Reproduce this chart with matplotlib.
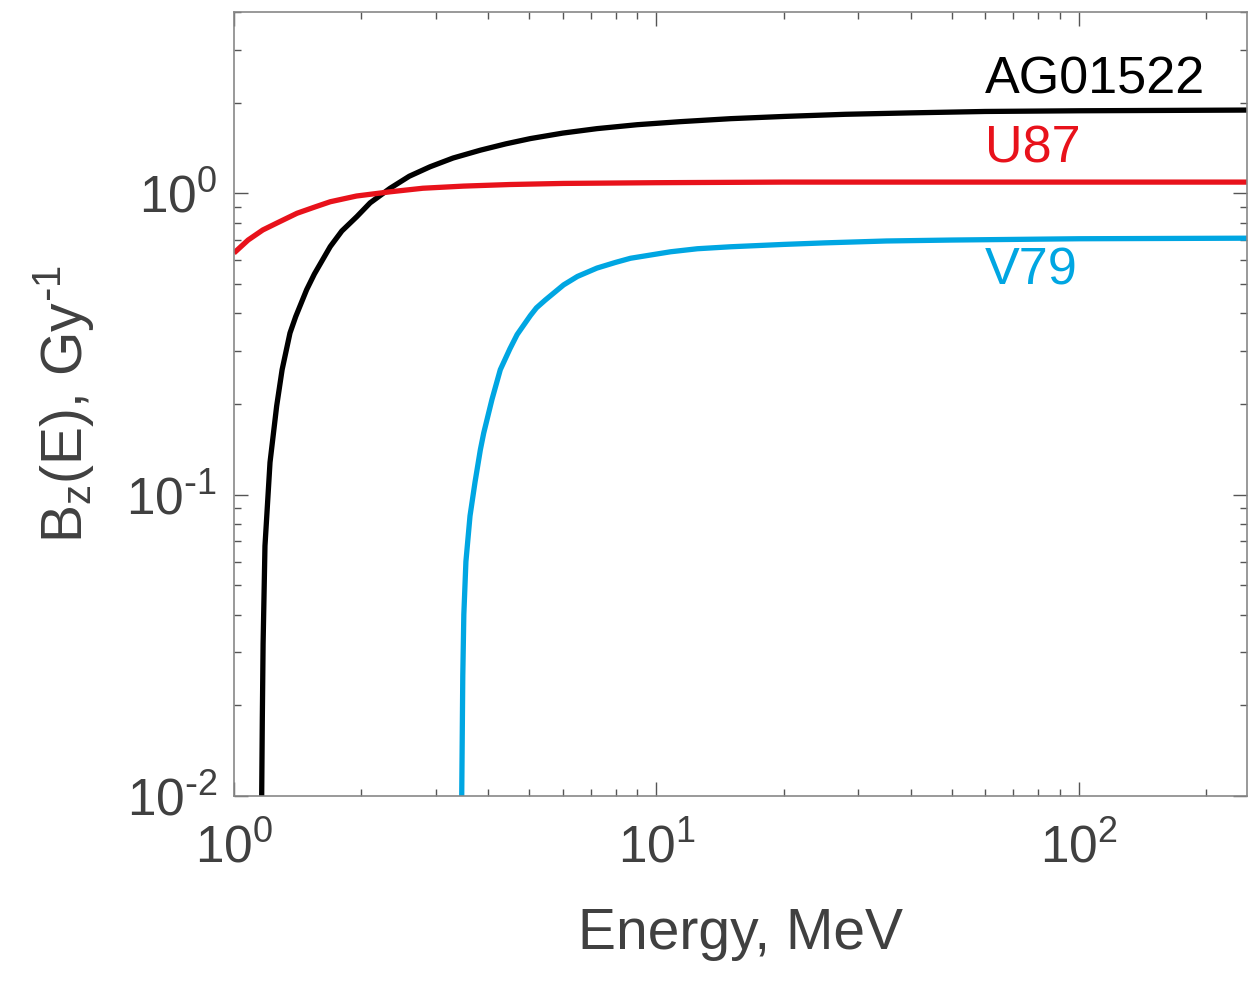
import matplotlib
matplotlib.use('Agg')
import matplotlib.pyplot as plt
from matplotlib.ticker import LogLocator, NullFormatter, FuncFormatter
import numpy as np

plt.rcParams['font.family'] = ['Liberation Sans', 'DejaVu Sans']
plt.rcParams['mathtext.default'] = 'regular'
plt.rcParams['axes.unicode_minus'] = False

# energies (MeV) and B_z(E) (Gy^-1)
e_ag = [1.163, 1.167, 1.172, 1.184, 1.217, 1.262, 1.30, 1.357, 1.40, 1.486,
        1.55, 1.69, 1.80, 1.953, 2.1, 2.34, 2.6, 2.91, 3.3, 3.83, 4.4, 5.03,
        6.0, 7.23, 9.0, 11.4, 15, 20, 28, 40, 60, 100, 160, 250]
b_ag = [0.0100, 0.018, 0.032, 0.0676, 0.128, 0.197, 0.26, 0.344, 0.39, 0.479,
        0.54, 0.666, 0.75, 0.837, 0.93, 1.039, 1.14, 1.225, 1.31, 1.391, 1.46,
        1.52, 1.585, 1.64, 1.69, 1.73, 1.77, 1.80, 1.83, 1.85, 1.87, 1.88,
        1.885, 1.89]

e_u87 = [1.0, 1.08, 1.17, 1.27, 1.41, 1.55, 1.69, 1.95, 2.34, 2.8, 3.49,
         4.5, 6.03, 10, 20, 250]
b_u87 = [0.634, 0.70, 0.756, 0.80, 0.859, 0.90, 0.938, 0.98, 1.012, 1.04,
         1.057, 1.07, 1.079, 1.085, 1.09, 1.09]

e_v79 = [3.46, 3.48, 3.50, 3.54, 3.62, 3.72, 3.83, 3.9, 4.08, 4.27, 4.5,
         4.68, 5.03, 5.2, 5.46, 6.03, 6.5, 7.23, 8.0, 8.68, 10.8, 12.5, 15,
         20, 25, 35, 50, 100, 250]
b_v79 = [0.0100, 0.025, 0.04, 0.06, 0.085, 0.11, 0.141, 0.16, 0.207, 0.26,
         0.305, 0.34, 0.393, 0.417, 0.443, 0.497, 0.53, 0.565, 0.59, 0.609,
         0.64, 0.655, 0.665, 0.677, 0.685, 0.695, 0.70, 0.707, 0.71]

names = ['AG01522', 'U87', 'V79']
colors = ['#000000', '#e8121b', '#00a6e2']
label_pos = [(60, 2.15), (60, 1.27), (60, 0.497)]


def pow10(v, _pos):
    p = int(round(np.log10(v)))
    return '$10^{' + ('\\text{-}' + str(-p) if p < 0 else str(p)) + '}$'


fig = plt.figure(figsize=(12.6, 9.81), dpi=100)
ax = fig.add_axes([0.1857, 0.1886, 0.8040, 0.7992])

for (e, b), c in zip([(e_ag, b_ag), (e_u87, b_u87), (e_v79, b_v79)], colors):
    ax.plot(e, b, color=c, lw=3.8, solid_capstyle='butt', solid_joinstyle='round')
for name, c, (x, y) in zip(names, colors, label_pos):
    ax.text(x, y, name, color=c, fontsize=37.5, ha='left', va='baseline')

ax.set_xscale('log'); ax.set_yscale('log')
ax.set_xlim(1, 250); ax.set_ylim(0.01, 4)
ax.xaxis.set_major_locator(LogLocator(base=10, numticks=10))
ax.yaxis.set_major_locator(LogLocator(base=10, numticks=10))
ax.xaxis.set_minor_locator(LogLocator(base=10, subs=range(2, 10), numticks=20))
ax.yaxis.set_minor_locator(LogLocator(base=10, subs=range(2, 10), numticks=20))
ax.xaxis.set_major_formatter(FuncFormatter(pow10))
ax.yaxis.set_major_formatter(FuncFormatter(pow10))
ax.xaxis.set_minor_formatter(NullFormatter())
ax.yaxis.set_minor_formatter(NullFormatter())

ax.tick_params(which='both', direction='in', top=True, right=True,
               color='#555555', labelcolor='#404040', labelsize=37, width=1.0)
ax.tick_params(which='major', length=10)
ax.tick_params(which='minor', length=5)
ax.tick_params(axis='y', pad=12)
ax.tick_params(axis='x', pad=20)
for s in ax.spines.values():
    s.set_color('#888888'); s.set_linewidth(1.2)

ax.set_xlabel('Energy, MeV', fontsize=41, color='#404040', labelpad=24)
ax.set_ylabel('B$_z$(E), Gy$^{\\text{-}1}$', fontsize=41, color='#404040',
              labelpad=22)

fig.savefig('out.png', dpi=100)
